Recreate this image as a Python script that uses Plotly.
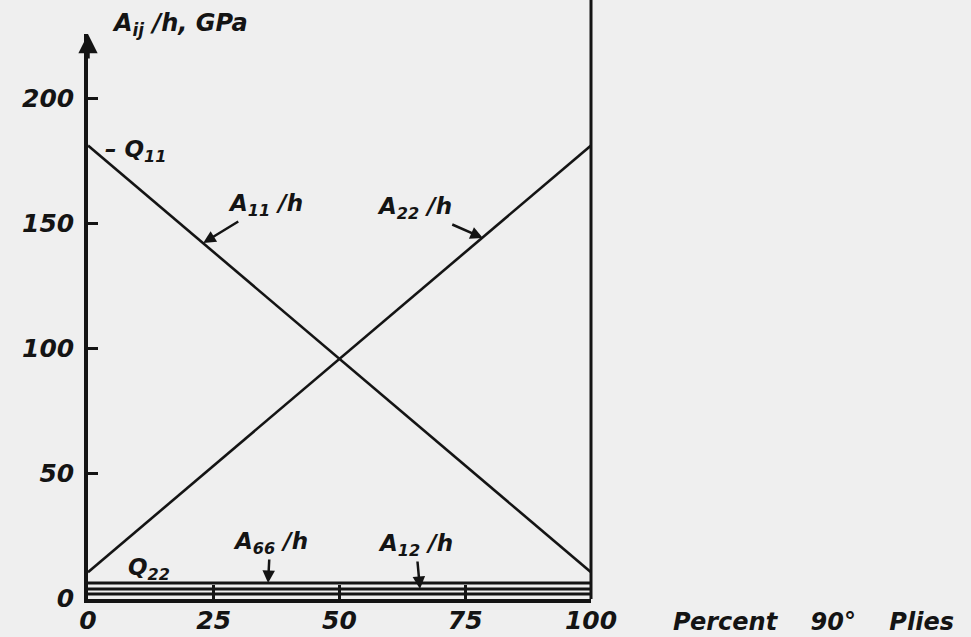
import plotly.graph_objects as go

# percent of 90 degree plies (end points of each straight line)
pct = [0, 100]
a11_h = [181, 10.3]   # A11/h, GPa  (Q11 -> Q22)
a22_h = [10.3, 181]   # A22/h, GPa  (Q22 -> Q11)
a66_h = [6.0, 6.0]    # A66/h, GPa
a12_h = [3.6, 3.6]    # A12/h, GPa
rule_h = [1.6, 1.6]   # inner rule of the doubled base line

x_ticks = [0, 25, 50, 75, 100]
y_ticks = [0, 50, 100, 150, 200]

INK = "#141414"
BG = "#efefef"
FONT = "DejaVu Sans"


def txt(size):
    return dict(family=FONT, size=size, color=INK, style="italic", weight="bold")


fig = go.Figure()
for ys, w in [(a11_h, 2.6), (a22_h, 2.6), (a66_h, 3.2), (a12_h, 3.2), (rule_h, 3.2)]:
    fig.add_trace(
        go.Scatter(x=pct, y=ys, mode="lines", line=dict(color=INK, width=w),
                   showlegend=False, hoverinfo="skip")
    )

top_px, bot_px = 34, 38
plot_h = 637 - top_px - bot_px
y_min = -0.4
y_max = y_min + plot_h / 2.5

fig.update_layout(
    width=971,
    height=637,
    autosize=False,
    margin=dict(l=88, r=380, t=top_px, b=bot_px),
    paper_bgcolor=BG,
    plot_bgcolor=BG,
    font=txt(25),
    xaxis=dict(
        range=[0, 100],
        tickvals=x_ticks,
        ticktext=[str(v) for v in x_ticks],
        showgrid=False,
        zeroline=False,
        showline=True,
        linecolor=INK,
        linewidth=3.5,
        ticks="inside",
        ticklen=14,
        tickwidth=2.5,
        tickcolor=INK,
        tickfont=txt(25),
        ticklabelstandoff=-4,
        automargin=False,
    ),
    yaxis=dict(
        range=[y_min, y_max],
        tickvals=y_ticks,
        ticktext=[str(v) for v in y_ticks],
        showgrid=False,
        zeroline=False,
        showline=True,
        linecolor=INK,
        linewidth=3.5,
        ticks="inside",
        ticklen=10,
        tickwidth=2.5,
        tickcolor=INK,
        tickfont=txt(25),
        ticklabelstandoff=5,
        automargin=False,
    ),
)

# right-hand vertical at 100 %, running to the top of the page
fig.add_shape(type="line", xref="paper", yref="paper", x0=1, x1=1, y0=0, y1=1.08,
              line=dict(color=INK, width=3))

# arrow head on top of the y axis
fig.add_annotation(xref="x", yref="paper", x=0, y=1.0, ax=0, ay=26, text="",
                   showarrow=True, arrowhead=2, arrowsize=1.1, arrowwidth=3.5,
                   arrowcolor=INK)

# axis titles
fig.add_annotation(xref="paper", yref="paper", x=0.043, y=1.016, xanchor="left",
                   yanchor="middle", text="A<sub>ij</sub> /h, GPa", showarrow=False,
                   font=txt(24))
fig.add_annotation(xref="paper", yref="paper", x=1.16, y=-0.04, xanchor="left",
                   yanchor="middle", text="Percent    90°    Plies", showarrow=False,
                   font=txt(24))

# curve labels
fig.add_annotation(x=3, y=a11_h[0] - 2, xanchor="left", yanchor="middle",
                   text="– Q<sub>11</sub>", showarrow=False, font=txt(23))
fig.add_annotation(x=7.5, y=11.5, xanchor="left", yanchor="middle",
                   text="Q<sub>22</sub>", showarrow=False, font=txt(23))

arrow = dict(showarrow=True, arrowhead=2, arrowsize=1, arrowwidth=2.5,
             arrowcolor=INK, font=txt(23))
fig.add_annotation(x=22.9, y=142, ax=62, ay=-38, text="A<sub>11</sub> /h", **arrow)
fig.add_annotation(x=78.5, y=144, ax=-68, ay=-30, text="A<sub>22</sub> /h", **arrow)
fig.add_annotation(x=35.8, y=a66_h[0], ax=2, ay=-40, text="A<sub>66</sub> /h", **arrow)
fig.add_annotation(x=66.0, y=a12_h[0], ax=-4, ay=-44, text="A<sub>12</sub> /h", **arrow)

fig.write_html(
    "out.html",
    config={"displayModeBar": False},
    post_script="document.body.style.margin='0';"
    f"document.body.style.background='{BG}';",
)
